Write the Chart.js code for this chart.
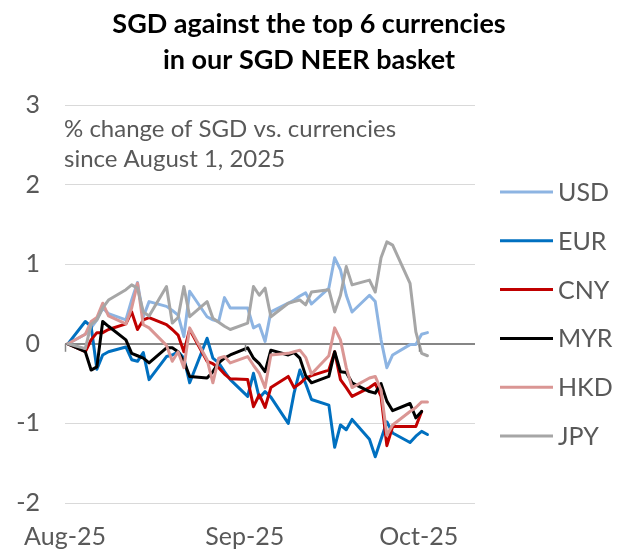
<!DOCTYPE html>
<html><head><meta charset="utf-8">
<script src="https://cdn.jsdelivr.net/npm/chart.js@4.4.1/dist/chart.umd.min.js"></script>
<style>html,body{margin:0;padding:0;background:#fff;}canvas{display:block;}</style>
</head><body>
<canvas id="c" width="621" height="551"></canvas>
<script>
const titleLines = ['SGD against the top 6 currencies', 'in our SGD NEER basket'];
const noteLines = ['% change of SGD vs. currencies', 'since August 1, 2025'];
const monthTicks = ['2025-08-01', '2025-09-01', '2025-10-01'];
const monthLabels = ['Aug-25', 'Sep-25', 'Oct-25'];
const yTicks = [-2, -1, 0, 1, 2, 3];

const dates = [
 '2025-08-01','2025-08-04','2025-08-05','2025-08-06','2025-08-07','2025-08-08',
 '2025-08-11','2025-08-12','2025-08-13','2025-08-14','2025-08-15',
 '2025-08-18','2025-08-19','2025-08-20','2025-08-21','2025-08-22',
 '2025-08-25','2025-08-26','2025-08-27','2025-08-28','2025-08-29',
 '2025-09-01','2025-09-02','2025-09-03','2025-09-04','2025-09-05',
 '2025-09-08','2025-09-09','2025-09-10','2025-09-11','2025-09-12',
 '2025-09-15','2025-09-16','2025-09-17','2025-09-18','2025-09-19',
 '2025-09-22','2025-09-23','2025-09-24','2025-09-25','2025-09-26',
 '2025-09-29','2025-09-30','2025-10-01','2025-10-02'];

const usd = [0,0.12,0.2,0.3,0.45,0.38, 0.3,0.55,0.77,0.34,0.53, 0.47,0.42,0.36,0.09,0.66, 0.34,0.3,0.28,0.58,0.45,
  0.45,0.2,0.24,0.03,0.4, 0.51,0.55,0.6,0.64,0.5, 0.7,1.08,0.93,0.61,0.4, 0.61,0.53,0.05,-0.3,-0.14, -0.01,-0.01, 0.12,0.14];
const eur = [0,0.28,0.22,-0.32,-0.14,-0.1, -0.04,-0.2,-0.22,-0.11,-0.45, -0.16,-0.14,-0.1,-0.18,-0.49, 0.07,-0.18,-0.24,-0.35,-0.45,
  -0.66,-0.37,-0.68,-0.6,-0.67, -1.0,-0.62,-0.33,-0.5,-0.7, -0.77,-1.3,-1.02,-1.08,-0.95, -1.2,-1.42,-1.2,-0.98,-1.12, -1.24,-1.16, -1.1,-1.14];
const cny = [0,-0.1,0.05,0.14,0.14,0.18, 0.25,0.4,0.18,0.3,0.33, 0.24,0.18,0.11,-0.1,0.18, -0.22,-0.25,-0.3,-0.38,-0.44,
  -0.45,-0.79,-0.64,-0.8,-0.55, -0.41,-0.55,-0.5,-0.43,-0.4, -0.33,-0.1,-0.45,-0.55,-0.66, -0.55,-0.5,-0.66,-1.28,-1.04, -1.04,-1.04, -0.85,null];
const myr = [0,-0.1,-0.33,-0.29,0.28,0.22, 0.05,-0.12,-0.15,-0.18,-0.24, -0.05,-0.05,-0.1,-0.22,-0.41, -0.43,-0.35,-0.24,-0.18,-0.14,
  -0.05,-0.18,-0.25,-0.35,-0.08, -0.14,-0.11,-0.18,-0.4,-0.49, -0.41,-0.1,-0.35,-0.36,-0.49, -0.6,-0.62,-0.5,-0.72,-0.84, -0.75,-0.93, -0.85,null];
const hkd = [0,0.12,0.28,0.33,0.51,0.35, 0.25,0.45,0.76,0.24,0.2, -0.02,-0.22,-0.1,-0.3,0.2, -0.2,-0.49,-0.18,-0.16,-0.24,
  -0.16,-0.27,-0.37,-0.55,-0.14, -0.12,-0.1,-0.08,-0.17,-0.38, -0.15,0.2,0.05,-0.3,-0.55, -0.43,-0.41,-0.58,-1.15,-1.02, -0.85,-0.8, -0.73,-0.73];
const jpy = [0,-0.06,0.24,0.3,0.45,0.55, 0.68,0.74,0.7,0.4,0.35, 0.72,0.26,0.33,0.72,0.34, 0.53,0.32,0.27,0.22,0.18,
  0.26,0.72,0.61,0.7,0.34, 0.51,0.53,0.55,0.49,0.65, 0.68,0.4,0.61,0.97,0.74, 0.8,0.65,1.08,1.28,1.24, 0.76,0.15, -0.12,-0.15];

const seriesNames = ['USD','EUR','CNY','MYR','HKD','JPY'];
const seriesData = [usd, eur, cny, myr, hkd, jpy];
const seriesColors = ['#8DB4E2','#0070C0','#C00000','#000000','#DA9694','#A6A6A6'];

const FONT = 'Lato, "Open Sans", sans-serif';
const GRAY = '#595959';
const t0 = Date.parse('2025-08-01T00:00:00Z');
const dayOf = d => (Date.parse(d + 'T00:00:00Z') - t0) / 86400000;

const overlay = {
  id: 'overlay',
  afterDraw(chart) {
    const ctx = chart.ctx;
    const xs = chart.scales.x, ys = chart.scales.y;
    ctx.save();
    ctx.fillStyle = '#000';
    ctx.font = 'bold 27px ' + FONT;
    ctx.textAlign = 'center';
    ctx.textBaseline = 'middle';
    titleLines.forEach((t, i) => ctx.fillText(t, 309, 24 + i * 36));
    ctx.fillStyle = GRAY;
    ctx.font = '24px ' + FONT;
    ctx.textAlign = 'left';
    noteLines.forEach((t, i) => ctx.fillText(t, 64, 129 + i * 30));
    const y0 = ys.getPixelForValue(0);
    ctx.strokeStyle = '#868686';
    ctx.lineWidth = 1.5;
    monthTicks.forEach(d => {
      const px = Math.round(xs.getPixelForValue(dayOf(d) - 0.5)) + 0.5;
      ctx.beginPath(); ctx.moveTo(px, y0); ctx.lineTo(px, y0 + 8); ctx.stroke();
    });
    ctx.font = '25px ' + FONT;
    chart.data.datasets.forEach((ds, i) => {
      const cy = 192 + i * 48.8;
      ctx.strokeStyle = ds.borderColor;
      ctx.lineWidth = 3;
      ctx.beginPath(); ctx.moveTo(500, cy); ctx.lineTo(553, cy); ctx.stroke();
      ctx.fillStyle = GRAY;
      ctx.fillText(ds.label, 558, cy + 1);
    });
    ctx.restore();
  }
};

new Chart(document.getElementById('c'), {
  type: 'line',
  data: {
    datasets: seriesNames.map((name, k) => ({
      label: name,
      data: dates.map((d, i) => ({ x: dayOf(d), y: seriesData[k][i] })),
      borderColor: seriesColors[k],
      backgroundColor: seriesColors[k],
      order: seriesNames.length - k
    }))
  },
  options: {
    responsive: false,
    animation: false,
    layout: { padding: { top: 105, right: 146, bottom: 0, left: 0 } },
    plugins: { legend: { display: false }, title: { display: false }, tooltip: { enabled: false } },
    elements: {
      point: { radius: 0 },
      line: { borderWidth: 3, tension: 0, borderJoinStyle: 'round', borderCapStyle: 'round' }
    },
    scales: {
      x: {
        type: 'linear', min: -0.5, max: 70.2,
        grid: { display: false, drawTicks: false },
        border: { display: false },
        afterBuildTicks: s => { s.ticks = monthTicks.map(d => ({ value: dayOf(d) - 0.5 })); },
        afterFit: s => { s.height = 48; },
        ticks: { padding: 19, color: GRAY, font: { family: FONT, size: 25 }, maxRotation: 0, autoSkip: false,
                 callback: (v, i) => monthLabels[i] }
      },
      y: {
        min: -2, max: 3,
        afterBuildTicks: s => { s.ticks = yTicks.map(v => ({ value: v })); },
        afterFit: s => { s.width = 65; },
        ticks: { padding: 25, color: GRAY, font: { family: FONT, size: 25 }, callback: v => String(v) },
        grid: { drawTicks: false,
                color: c => (c.tick && c.tick.value === 0) ? '#868686' : '#D9D9D9',
                lineWidth: c => (c.tick && c.tick.value === 0) ? 2 : 1 },
        border: { display: false }
      }
    }
  },
  plugins: [overlay]
});
</script>
</body></html>
